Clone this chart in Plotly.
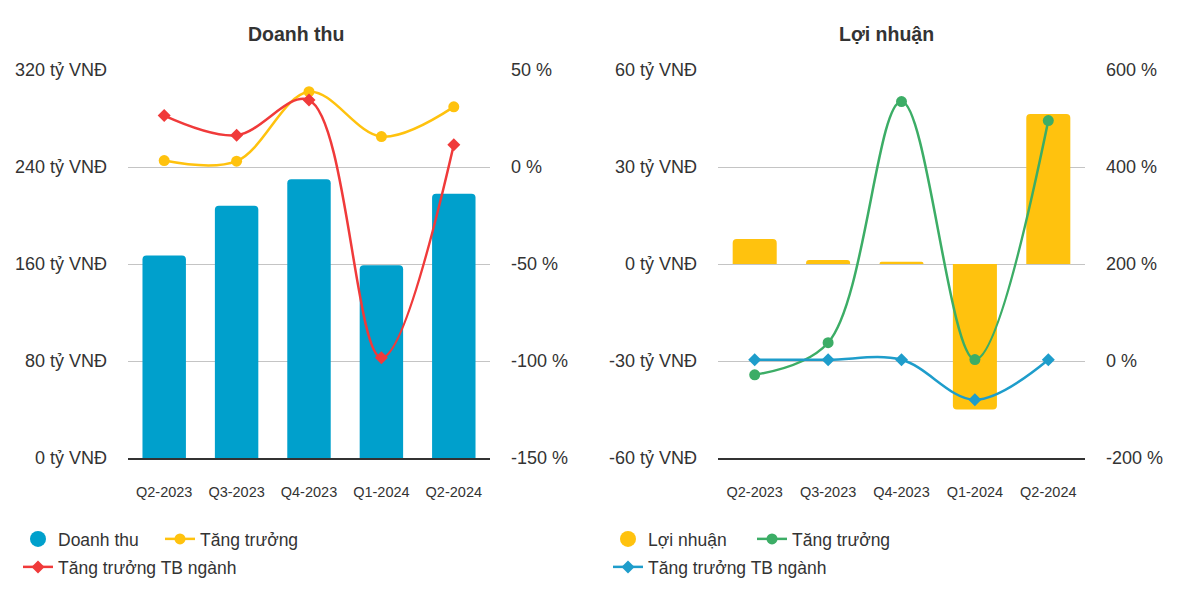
import plotly.graph_objects as go

# The page body has an 8px default margin; work in screen pixels and shift.
OFF = 8
W, H = 1180 - OFF, 592 - OFF

quarters = ["Q2-2023", "Q3-2023", "Q4-2023", "Q1-2024", "Q2-2024"]

# Left chart: Doanh thu
doanh_thu = [167, 208, 230, 159, 218]            # tỷ VNĐ
dt_tang_truong = [3.3, 3.0, 38.8, 15.7, 31.0]     # %
dt_tb_nganh = [26.5, 16.4, 34.5, -98.3, 11.5]    # %

# Right chart: Lợi nhuận
loi_nhuan = [7.7, 1.2, 0.7, -45.0, 46.4]          # tỷ VNĐ
ln_tang_truong = [-28.4, 37.7, 535.0, 3.0, 495.7] # %
ln_tb_nganh = [2.5, 2.5, 2.5, -80.0, 2.5]        # %

# Tick labels
left_y_vals = [0, 80, 160, 240, 320]
left_y_text = ["0 tỷ VNĐ", "80 tỷ VNĐ", "160 tỷ VNĐ", "240 tỷ VNĐ", "320 tỷ VNĐ"]
left_y2_vals = [-150, -100, -50, 0, 50]
left_y2_text = ["-150 %", "-100 %", "-50 %", "0 %", "50 %"]
right_y_vals = [-60, -30, 0, 30, 60]
right_y_text = ["-60 tỷ VNĐ", "-30 tỷ VNĐ", "0 tỷ VNĐ", "30 tỷ VNĐ", "60 tỷ VNĐ"]
right_y2_vals = [-200, 0, 200, 400, 600]
right_y2_text = ["-200 %", "0 %", "200 %", "400 %", "600 %"]

BLUE_BAR = "#00A0CC"
YELLOW = "#FFC20E"
RED = "#F03A3A"
GREEN = "#3CAD66"
BLUE_LINE = "#1E9DCB"
TXT = "#333333"
FONT = "Liberation Sans, Arial, sans-serif"

fig = go.Figure()

# ---- Left chart ----
fig.add_trace(go.Bar(x=quarters, y=doanh_thu, marker=dict(color=BLUE_BAR, line=dict(width=0)),
                     width=0.6, xaxis="x", yaxis="y", showlegend=False, name="Doanh thu"))
fig.add_trace(go.Scatter(x=[None], y=[None], mode="markers", name="Doanh thu",
                         marker=dict(symbol="circle", size=16, color=BLUE_BAR),
                         xaxis="x", yaxis="y", legend="legend"))
fig.add_trace(go.Scatter(x=quarters, y=dt_tang_truong, mode="lines+markers", name="Tăng trưởng",
                         line=dict(color=YELLOW, width=2.5, shape="spline", smoothing=1),
                         marker=dict(symbol="circle", size=11, color=YELLOW),
                         xaxis="x", yaxis="y2", legend="legend2"))
fig.add_trace(go.Scatter(x=quarters, y=dt_tb_nganh, mode="lines+markers", name="Tăng trưởng TB ngành",
                         line=dict(color=RED, width=2.5, shape="spline", smoothing=1),
                         marker=dict(symbol="diamond", size=10, color=RED),
                         xaxis="x", yaxis="y2", legend="legend3"))

# ---- Right chart ----
fig.add_trace(go.Bar(x=quarters, y=loi_nhuan, marker=dict(color=YELLOW, line=dict(width=0)),
                     width=0.6, xaxis="x2", yaxis="y3", showlegend=False, name="Lợi nhuận"))
fig.add_trace(go.Scatter(x=[None], y=[None], mode="markers", name="Lợi nhuận",
                         marker=dict(symbol="circle", size=16, color=YELLOW),
                         xaxis="x2", yaxis="y3", legend="legend4"))
fig.add_trace(go.Scatter(x=quarters, y=ln_tang_truong, mode="lines+markers", name="Tăng trưởng",
                         line=dict(color=GREEN, width=2.5, shape="spline", smoothing=1),
                         marker=dict(symbol="circle", size=11, color=GREEN),
                         xaxis="x2", yaxis="y4", legend="legend5"))
fig.add_trace(go.Scatter(x=quarters, y=ln_tb_nganh, mode="lines+markers", name="Tăng trưởng TB ngành",
                         line=dict(color=BLUE_LINE, width=2.5, shape="spline", smoothing=1),
                         marker=dict(symbol="diamond", size=10, color=BLUE_LINE),
                         xaxis="x2", yaxis="y4", legend="legend6"))

# plot area bounds in screen pixels
TOP, BOTTOM = 70 - OFF, 458 - OFF
ML = 128 - OFF
XR = 1085 - OFF
MR = W - XR
PW = W - ML - MR
xdom1 = [0.0, (490 - OFF - ML) / PW]
xdom2 = [(718 - OFF - ML) / PW, 1.0]
ydom = [0, 1]

tickfont = dict(family=FONT, size=18, color=TXT)
catfont = dict(family=FONT, size=14.5, color=TXT)


def xax(domain, anchor):
    return dict(domain=domain, anchor=anchor, type="category", range=[-0.5, 4.5],
                showgrid=False, showline=True, linecolor="#333333", linewidth=1.5,
                ticks="", tickfont=catfont, ticklabelstandoff=20, zeroline=False,
                fixedrange=True, automargin=False)


def yax(domain, anchor, rng, vals, text, side="left", overlaying=None, grid=True):
    d = dict(domain=domain, anchor=anchor, range=rng, tickmode="array", tickvals=vals,
             ticktext=text, showgrid=grid, gridcolor="#C4C4C4", gridwidth=1,
             zeroline=False, showline=False, ticks="", tickfont=tickfont, side=side,
             ticklabelstandoff=20, fixedrange=True, automargin=False)
    if overlaying:
        d["overlaying"] = overlaying
    return d


def legend_at(sx, sy):
    # sx: screen x of legend box left; sy: screen y of row centre
    return dict(x=(sx - OFF) / W, y=1 - (sy - OFF) / H, xref="container", yref="container",
                xanchor="left", yanchor="middle", orientation="h",
                font=dict(family=FONT, size=17.5, color=TXT),
                bgcolor="rgba(0,0,0,0)", borderwidth=0, itemclick=False)


def paper_x(sx):
    return (sx - OFF - ML) / PW


def paper_y(sy):
    return (BOTTOM - (sy - OFF)) / (BOTTOM - TOP)


fig.update_layout(
    width=W, height=H,
    margin=dict(l=ML, r=MR, t=TOP, b=H - BOTTOM, autoexpand=False),
    paper_bgcolor="white", plot_bgcolor="white",
    font=dict(family=FONT, color=TXT),
    barmode="overlay",
    barcornerradius=4,
    xaxis=xax(xdom1, "y"),
    yaxis=yax(ydom, "x", [0, 320], left_y_vals, left_y_text),
    yaxis2=yax(ydom, "x", [-150, 50], left_y2_vals, left_y2_text, side="right", overlaying="y", grid=False),
    xaxis2=xax(xdom2, "y3"),
    yaxis3=yax(ydom, "x2", [-60, 60], right_y_vals, right_y_text),
    yaxis4=yax(ydom, "x2", [-200, 600], right_y2_vals, right_y2_text, side="right", overlaying="y3", grid=False),
    legend=legend_at(18, 539),
    legend2=legend_at(160, 539),
    legend3=legend_at(18, 567),
    legend4=legend_at(608, 539),
    legend5=legend_at(752, 539),
    legend6=legend_at(608, 567),
    annotations=[
        dict(text="<b>Doanh thu</b>", x=paper_x(296), y=paper_y(34), xref="paper", yref="paper",
             xanchor="center", yanchor="middle", showarrow=False,
             font=dict(family=FONT, size=19.5, color=TXT)),
        dict(text="<b>Lợi nhuận</b>", x=paper_x(886), y=paper_y(34), xref="paper", yref="paper",
             xanchor="center", yanchor="middle", showarrow=False,
             font=dict(family=FONT, size=19.5, color=TXT)),
    ],
)

fig.write_html("out.html")
